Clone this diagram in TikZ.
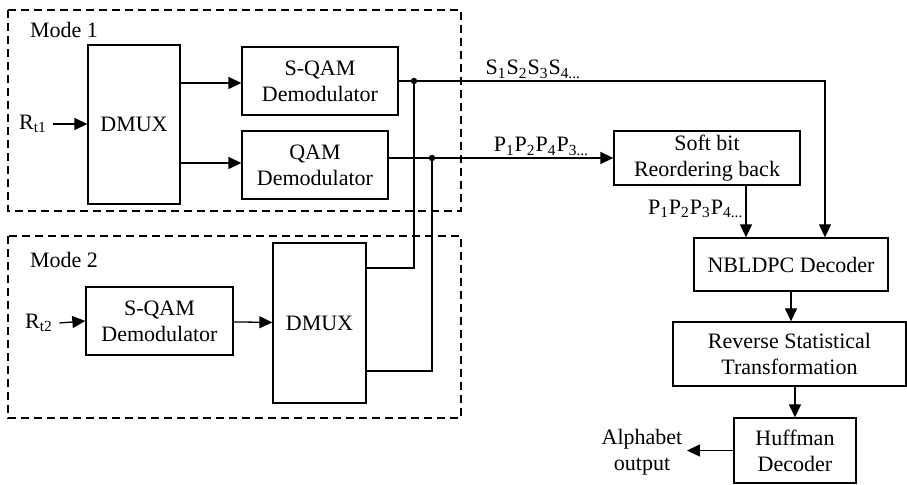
\documentclass[tikz,border=0pt]{standalone}
\usepackage{fontspec}
\setmainfont{Liberation Serif}
\usetikzlibrary{arrows.meta}

\begin{document}
\begin{tikzpicture}[x=0.5pt,y=-0.5pt,line width=0.65pt,
  font=\fontsize{11}{13}\selectfont,
  blk/.style={draw,align=center,inner sep=0pt},
  arr/.style={-{Triangle[length=6.5pt,width=6pt]}},
  modebox/.style={dash pattern=on 4pt off 2.5pt},
  lbl/.style={inner sep=1pt}]
\useasboundingbox (0,0) rectangle (907,485);

\draw[modebox] (8,10) rectangle (461,211);
\draw[modebox] (8,236) rectangle (461,418);
\node[lbl] (mode1) at (64,30) {Mode 1};
\node[lbl] (mode2) at (64,260) {Mode 2};

\node[blk,minimum width=46pt,minimum height=79.5pt] (dmuxa) at (134,124.5) {DMUX};
\node[blk,minimum width=78pt,minimum height=34pt] (sqama) at (320,81) {S-QAM\\Demodulator};
\node[blk,minimum width=73pt,minimum height=34pt] (qama) at (315,165) {QAM\\Demodulator};
\node[blk,minimum width=73.5pt,minimum height=34pt] (sqamb) at (159.5,321) {S-QAM\\Demodulator};
\node[blk,minimum width=46.5pt,minimum height=80pt] (dmuxb) at (319.5,323) {DMUX};
\node[blk,minimum width=93pt,minimum height=27pt] (soft) at (707,158) {Soft bit\\Reordering back};
\node[blk,minimum width=97pt,minimum height=26.5pt] (nbldpc) at (791,264.5) {NBLDPC Decoder};
\node[blk,minimum width=116.5pt,minimum height=32pt] (rev) at (789.5,354) {Reverse Statistical\\Transformation};
\node[blk,minimum width=61pt,minimum height=32.5pt] (huff) at (795,450.5) {Huffman\\Decoder};

\node[lbl] (rta) at (33,124) {R\textsubscript{t1}};
\node[lbl] (rtb) at (39,323) {R\textsubscript{t2}};
\node[lbl,align=center] (alpha) at (642,452) {Alphabet\\output};

\coordinate (js) at (414,81);
\coordinate (jp) at (432,158);
\fill (js) circle [radius=1.6pt];
\fill (jp) circle [radius=1.6pt];

\draw[arr] ([xshift=2pt]rta.east) -- (dmuxa.west |- rta);
\draw[arr] (dmuxa.east |- 0,83) -- (sqama.west |- 0,83);
\draw[arr] (dmuxa.east |- 0,163) -- (qama.west |- 0,163);
\draw[arr] ([xshift=2pt]rtb.east) -- (sqamb.west);
\draw[arr] (sqamb) -- (dmuxb);

\draw[arr] (sqama.east) -| ([xshift=17pt]nbldpc.north)
  node[lbl,pos=0.158,above] {S\textsubscript{1}S\textsubscript{2}S\textsubscript{3}S\textsubscript{4...}};
\draw[arr] (qama.east |- soft) -- (soft.west)
  node[lbl,pos=0.68,above] {P\textsubscript{1}P\textsubscript{2}P\textsubscript{4}P\textsubscript{3...}};
\draw ([yshift=27.5pt]dmuxb.east) -| (js);
\draw ([yshift=-24pt]dmuxb.east) -| (jp);

\draw[arr] ([xshift=19.5pt]soft.south) -- ([xshift=19.5pt]soft.south |- nbldpc.north)
  node[lbl,pos=0.45,left] {P\textsubscript{1}P\textsubscript{2}P\textsubscript{3}P\textsubscript{4...}};
\draw[arr] (nbldpc.south) -- (nbldpc.south |- rev.north);
\draw[arr] (huff.north |- rev.south) -- (huff.north);
\draw[arr] (huff.west) -- ([xshift=1pt]alpha.east |- huff.west);
\end{tikzpicture}
\end{document}
